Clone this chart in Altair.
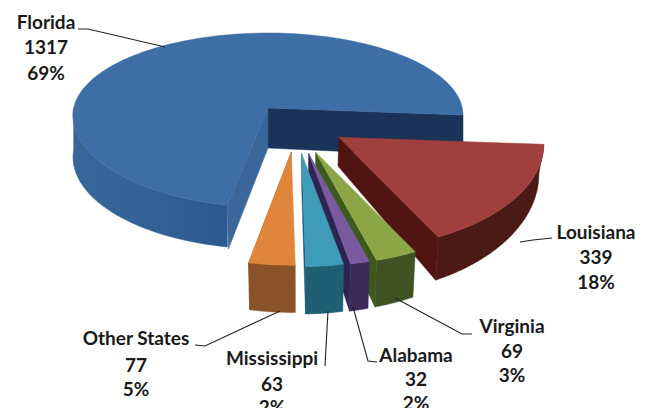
import numpy as np
import pandas as pd
import altair as alt

# Breakdown by state, drawn as an exploded tilted pie
states = ["Florida", "Louisiana", "Virginia", "Alabama", "Mississippi", "Other States"]
counts = [1317, 339, 69, 32, 63, 77]
percents = ["69%", "18%", "3%", "2%", "2%", "5%"]

top_colors = ["#3E6EA6", "#A0403D", "#8BA547", "#7A5A9E", "#3E9CB8", "#DF863C"]
front_colors = ["#2F5C92", "#4C1A16", "#3F5222", "#3E2A58", "#1F5F74", "#8A5228"]
cut_colors = ["#3A689C", "#501512", "#3B5A1C", "#2D2450", "#1B5C72", "#8A5228"]

# Pixel layout of the projected pie
CX, CY = 268, 108          # hub of the unexploded slice
explode_shift = 28
explode_x = 50
explode_y = 45


def warp(theta):
    """Angle correction from the tilted camera (degrees, clockwise from north)."""
    return theta - 6 * (1 - np.sin(np.radians(theta)))


def rim(ax, ay, phi, a, back, front):
    p = np.radians(phi)
    c = np.cos(p)
    return ax + a * np.sin(p), ay + 7 - np.where(c > 0, back, front) * c


def polygon(xs, ys):
    xs = list(xs) + [xs[0]]
    ys = list(ys) + [ys[0]]
    return pd.DataFrame({"px": xs, "py": ys, "i": range(len(xs))})


X = alt.X("px:Q", axis=None, scale=alt.Scale(domain=[0, 645], nice=False, zero=False))
Y = alt.Y("py:Q", axis=None, scale=alt.Scale(domain=[408, 0], nice=False, zero=False))


def face(xs, ys, fill, stroke=None):
    return alt.Chart(polygon(xs, ys)).mark_line(
        fill=fill, stroke=stroke or fill, strokeWidth=0.5, interpolate="linear"
    ).encode(x=X, y=Y, order="i:Q")


def shade(c0, c1):
    return alt.Gradient(gradient="linear", x1=0, x2=1, y1=0, y2=0,
                        stops=[alt.GradientStop(color=c0, offset=0),
                               alt.GradientStop(color=c1, offset=1)])


total = sum(counts)
spans = [c / total * 360 for c in counts]
florida_end = 450.0
starts = [florida_end - spans[0]]
for sp in spans[:-1]:
    starts.append(starts[-1] + sp)

layers = []

# Florida stays at the hub; its faces go down first
t = np.linspace(starts[0], starts[0] + spans[0], 160)
phi = warp(t)
fx, fy = rim(CX, CY, phi, 195, 82, 92)
DEPTH = 42
vis = (phi <= 275)
sx, sy = fx[vis], fy[vis]
layers.append(face(list(sx) + list(sx[::-1]), list(sy) + list(sy[::-1] + DEPTH),
                   shade("#386899", "#2C5A90"), "#33619A"))
layers.append(face([CX, fx[-1], fx[-1], CX], [CY, fy[-1], fy[-1] + DEPTH, CY + 40], "#1B3358"))
layers.append(face([CX, fx[0], fx[0] + 1, CX], [CY, fy[0], fy[0] + 44, CY + 40], "#3A6699"))
layers.append(face(list(fx) + [CX], list(fy) + [CY], top_colors[0]))


def depth(y):
    return 29 + 0.145 * (np.asarray(y) - 139)


def base_x(x):
    return np.asarray(x) - 0.02 * (np.asarray(x) - 300)


# Exploded slices, far to near
for k in range(1, len(states)):
    t = np.linspace(starts[k], starts[k] + spans[k], 40)
    phi = warp(t)
    mid = np.radians(warp(starts[k] + spans[k] / 2))
    ax = CX + explode_shift + explode_x * np.sin(mid)
    ay = CY - explode_y * np.cos(mid) + 7 * np.sin(mid)
    rx, ry = rim(ax, ay, phi, 205, 82, 106)
    bx, by = base_x(rx), ry + depth(ry)
    apx, apy = float(base_x(ax)), float(ay + depth(ay))
    # cut face on the clockwise side
    layers.append(face([ax, rx[-1], bx[-1], apx], [ay, ry[-1], by[-1], apy], cut_colors[k]))
    # outer wall
    layers.append(face(list(rx) + list(bx[::-1]), list(ry) + list(by[::-1]), front_colors[k]))
    # top
    layers.append(face([ax] + list(rx), [ay] + list(ry), top_colors[k]))

# Leader lines
leaders = {
    "Florida": ([78, 88, 165], [29, 29, 47]),
    "Louisiana": ([520, 533, 552], [242, 240, 238]),
    "Virginia": ([395, 462, 472], [298, 334, 334]),
    "Alabama": ([353, 368, 377], [307, 361, 362]),
    "Mississippi": ([328, 325], [311, 366]),
    "Other States": ([280, 205, 195], [311, 346, 345]),
}
for xs, ys in leaders.values():
    layers.append(
        alt.Chart(pd.DataFrame({"px": xs, "py": ys, "i": range(len(xs))}))
        .mark_line(color="#222222", strokeWidth=1.1)
        .encode(x=X, y=Y, order="i:Q")
    )

# Three-line labels
label_pos = {
    "Florida": (46, [23, 48, 74]),
    "Louisiana": (596, [233, 258, 283]),
    "Virginia": (512, [327, 352, 376]),
    "Alabama": (416, [356, 380, 404]),
    "Mississippi": (272, [359, 385, 408]),
    "Other States": (136, [339, 366, 390]),
}
rows = []
for s, c, p in zip(states, counts, percents):
    x, ys = label_pos[s]
    for txt, y in zip([s, str(c), p], ys):
        rows.append({"px": x, "py": y, "txt": txt})
layers.append(
    alt.Chart(pd.DataFrame(rows))
    .mark_text(font="Lato", fontWeight="bold", fontSize=19, color="#1a1a1a", baseline="middle")
    .encode(x=X, y=Y, text="txt:N")
)

chart = (
    alt.layer(*layers)
    .properties(width=645, height=408, padding=0, autosize=alt.AutoSizeParams(type="none"),
                background="white")
    .configure_view(stroke=None)
)
chart.save("out.html", embed_options={"renderer": "svg", "actions": False})
